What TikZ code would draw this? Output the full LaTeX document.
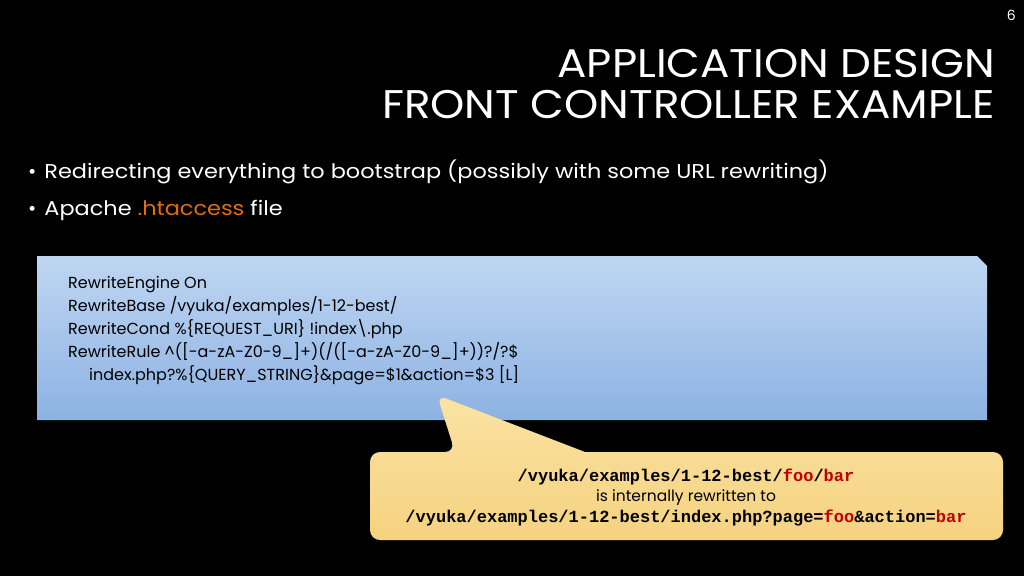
\documentclass[tikz,border=0pt]{standalone}
\usepackage{fontspec}
\setmainfont{Poppins}
\setmonofont{Liberation Mono}
\usetikzlibrary{positioning}
\definecolor{boxtop}{HTML}{BFD6F2}
\definecolor{boxbot}{HTML}{8DB2E3}
\definecolor{calltop}{HTML}{FBE3A4}
\definecolor{callbot}{HTML}{F5D27F}
\definecolor{orng}{HTML}{E46C0A}
\definecolor{rd}{HTML}{C00000}
\tikzset{
  txt/.style={text=white,inner sep=0pt,anchor=base west},
  code/.style={text=black,inner sep=0pt,anchor=base west,font=\fontsize{16}{18}\selectfont},
  ctext/.style={text=black,inner sep=0pt,anchor=base,font=\fontsize{17}{18}\selectfont}
}
\begin{document}
\begin{tikzpicture}[x=1pt,y=-1pt]
\fill[black] (0,0) rectangle (1024,576);
\useasboundingbox (0,0) rectangle (1024,576);
\node[txt,anchor=base east,font=\fontsize{14}{16}\selectfont] (pg) at (1016,20) {6};
\node[txt,anchor=base east,font=\fontsize{40}{42}\selectfont] (t1) at (995,77) {\scalebox{1.09}[1]{APPLICATION DESIGN}};
\node[txt,anchor=base east,font=\fontsize{40}{42}\selectfont] (t2) at (995,118) {\scalebox{1.09}[1]{FRONT CONTROLLER EXAMPLE}};
\node[txt,font=\fontsize{20}{22}\selectfont] (b1) at (28,178) {•\hspace{8pt}\scalebox{1.12}[1]{Redirecting everything to bootstrap (possibly with some URL rewriting)}};
\node[txt,font=\fontsize{20}{22}\selectfont] (b2) at (28,215) {•\hspace{8pt}\scalebox{1.12}[1]{Apache \textcolor{orng}{.htaccess} file}};
\shade[top color=boxtop,bottom color=boxbot] (37,256) -- (977,256) -- (987,266) -- (987,420) -- (37,420) -- cycle;
\node[code] (c1) at (68,288) {RewriteEngine On};
\node[code] (c2) at (68,311) {RewriteBase /vyuka/examples/1-12-best/};
\node[code] (c3) at (68,334) {RewriteCond \%\{REQUEST\_URI\} !index\textbackslash.php};
\node[code] (c4) at (68,357) {RewriteRule \^{}([-a-zA-Z0-9\_]+)(/([-a-zA-Z0-9\_]+))?/?\$};
\node[code] (c5) at (89,380) {index.php?\%\{QUERY\_STRING\}\&page=\$1\&action=\$3 [L]};
\shade[top color=calltop,bottom color=callbot,rounded corners=10pt,draw=none]
  (370,452) -- (455,452) -- (437,395) [sharp corners] -- (585,452) [rounded corners=10pt] -- (1003,452) -- (1003,540) -- (370,540) -- cycle;
\node[ctext] (l1) at (686,481) {\ttfamily\bfseries /vyuka/examples/1-12-best/\textcolor{rd}{foo}/\textcolor{rd}{bar}};
\node[ctext,font=\fontsize{15.5}{16}\selectfont] (l2) at (686,501) {is internally rewritten to};
\node[ctext] (l3) at (686,522) {\ttfamily\bfseries /vyuka/examples/1-12-best/index.php?page=\textcolor{rd}{foo}\&action=\textcolor{rd}{bar}};
\end{tikzpicture}
\end{document}
